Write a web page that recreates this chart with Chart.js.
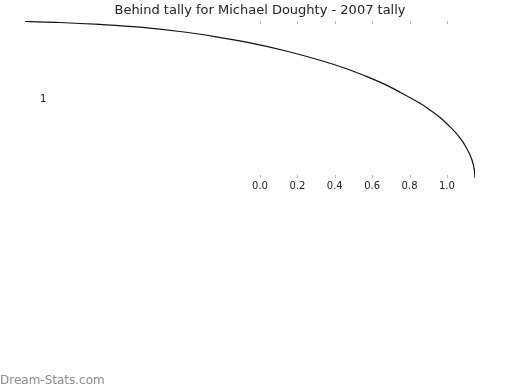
<!DOCTYPE html>
<html>
<head>
<meta charset="utf-8">
<script src="https://cdn.jsdelivr.net/npm/chart.js@4"></script>
<style>
html,body{margin:0;padding:0;background:#fff;}
#wrap{position:relative;width:520px;height:390px;}
#wm{position:absolute;left:0;top:374px;font:12px "DejaVu Sans",sans-serif;line-height:12px;color:#8c8c8c;white-space:nowrap;}
</style>
</head>
<body>
<div id="wrap">
<canvas id="c" width="520" height="390"></canvas>
<div id="wm">Dream-Stats.com</div>
</div>
<script>
const TITLE = "Behind tally for Michael Doughty - 2007 tally";
const curveX = [-1.257,-1.070,-0.856,-0.642,-0.428,-0.241,-0.053,0.134,0.321,0.455,0.588,0.668,0.749,0.856,0.909,0.963,1.005,1.043,1.070,1.096,1.123,1.139,1.147,1.150];
const curveY = [1.994,1.981,1.956,1.921,1.866,1.801,1.721,1.621,1.500,1.398,1.276,1.193,1.093,0.951,0.866,0.770,0.678,0.588,0.509,0.418,0.295,0.188,0.094,0.000];
const xTicks = [0.0,0.2,0.4,0.6,0.8,1.0];
const yTicks = [1];
const xRange = [-1.257, 1.150];
const yRange = [0, 2];

Chart.defaults.font.family = '"DejaVu Sans", sans-serif';

const innerTicks = {
  id: 'innerTicks',
  afterDraw(chart) {
    const {ctx, chartArea} = chart;
    const xs = chart.scales.x;
    ctx.save();
    ctx.strokeStyle = '#b8b8b8';
    ctx.lineWidth = 1;
    xs.ticks.forEach(t => {
      const px = Math.round(xs.getPixelForValue(t.value)) + 0.5;
      ctx.beginPath();
      ctx.moveTo(px, chartArea.top);
      ctx.lineTo(px, chartArea.top + 3);
      ctx.moveTo(px, chartArea.bottom - 3);
      ctx.lineTo(px, chartArea.bottom);
      ctx.stroke();
    });
    ctx.restore();
  }
};

new Chart(document.getElementById('c'), {
  type: 'scatter',
  data: {
    datasets: [{
      data: curveX.map((x, i) => ({x: x, y: curveY[i]})),
      showLine: true,
      borderColor: '#111',
      borderWidth: 1.2,
      pointRadius: 0,
      tension: 0.4,
      fill: false
    }]
  },
  options: {
    responsive: false,
    animation: false,
    layout: {padding: {left: 25, right: 25, top: 0, bottom: 192}},
    plugins: {
      legend: {display: false},
      tooltip: {enabled: false},
      title: {
        display: true,
        text: TITLE,
        color: '#222',
        font: {size: 13, weight: 'normal'},
        padding: {top: 1.2, bottom: 2.2}
      }
    },
    scales: {
      x: {
        type: 'linear',
        min: xRange[0],
        max: xRange[1],
        afterBuildTicks: s => { s.ticks = xTicks.map(v => ({value: v})); },
        afterFit: s => { s.height = 20; },
        grid: {display: false, drawTicks: false},
        border: {display: false},
        ticks: {
          color: '#222',
          font: {size: 10},
          padding: 2,
          maxRotation: 0,
          autoSkip: false,
          callback: v => Number(v).toFixed(1)
        }
      },
      y: {
        type: 'linear',
        min: yRange[0],
        max: yRange[1],
        afterBuildTicks: s => { s.ticks = yTicks.map(v => ({value: v})); },
        afterFit: s => { s.width = 0; },
        grid: {display: false, drawTicks: false},
        border: {display: false},
        ticks: {
          mirror: true,
          padding: 15,
          color: '#222',
          font: {size: 10},
          callback: v => String(v)
        }
      },
      yRight: {
        type: 'linear',
        position: 'right',
        min: yRange[0],
        max: yRange[1],
        afterFit: s => { s.width = 20; },
        grid: {display: false, drawTicks: false},
        border: {display: false},
        ticks: {display: false}
      }
    }
  },
  plugins: [innerTicks]
});
</script>
</body>
</html>
